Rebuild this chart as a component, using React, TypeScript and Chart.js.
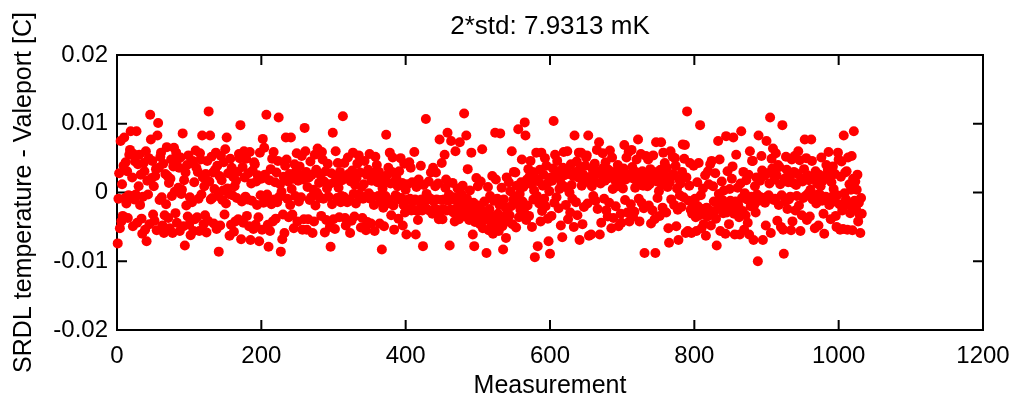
import React, { useEffect, useRef } from "react";
import { Chart, registerables } from "chart.js";

Chart.register(...registerables);

const titleText = "2*std: 7.9313 mK";
const xAxisLabel = "Measurement";
const yAxisLabel = "SRDL temperature - Valeport [C]";
const xTicks = [0, 200, 400, 600, 800, 1000, 1200];
const xTickLabels = ["0", "200", "400", "600", "800", "1000", "1200"];
const yTicks = [-0.02, -0.01, 0, 0.01, 0.02];
const yTickLabels = ["-0.02", "-0.01", "0", "0.01", "0.02"];

// temperature difference per measurement, in mK (measurement 1, 2, 3, ...)
const diffMilliK = [
  -7.4, -0.9, 2.8, -5.2, 7.5, -4.2, 1.2, -3.4, 3.9, 8.0,
  -0.8, 4.4, -1.6, 3.1, -3.7, -0.4, 5.5, 6.2, 8.9, -0.5,
  2.2, -4.9, 5.6, -1.0, 4.5, -0.3, 8.9, -4.4, 4.1, 0.9,
  5.5, -1.8, 2.6, -3.8, -6.0, -0.6, 4.3, 3.1, -5.4, 6.0,
  -7.1, 1.7, -0.3, 5.0, -4.6, 11.3, 7.7, 2.1, 4.6, -3.2,
  0.9, -4.1, 2.4, 3.4, -5.5, 8.3, 10.1, 3.6, -1.1, 5.2,
  5.8, -0.7, -4.8, 4.2, -5.9, -3.3, 2.7, -1.7, 6.6, 2.4,
  -3.7, 1.4, -5.2, 2.0, 4.8, -0.5, -5.9, 3.8, 6.5, 0.1,
  -3.0, 5.8, -4.4, 4.8, 0.7, 3.6, -5.6, 5.1, -0.2, 0.4,
  8.6, -4.9, 1.8, -7.7, 2.9, -1.9, 4.0, -3.5, 5.4, -4.7,
  -0.7, -6.2, 4.3, -1.4, 4.6, -5.6, 1.5, -3.9, 6.1, 3.6,
  -3.6, 3.0, -0.9, -5.6, 5.7, 4.8, -0.3, 8.3, 2.2, -4.6,
  0.9, -3.3, 2.7, -5.8, 4.6, -4.1, 11.8, 1.6, 8.3, -1.0,
  5.2, -0.8, 2.9, -4.5, 0.5, 3.3, 5.8, -5.3, 3.9, -0.5,
  -8.6, 2.4, -4.8, 5.3, 1.8, -1.1, 0.3, 4.4, -3.2, 6.3,
  -1.6, 8.0, 0.6, 2.8, -0.2, -6.3, 4.9, -4.7, 3.6, -0.4,
  2.3, -5.7, 0.9, -4.2, 1.7, -0.8, 3.0, -3.9, 5.6, 5.0,
  9.8, -6.8, -1.3, 3.7, -4.4, 6.0, 2.2, -0.6, 4.9, -3.4,
  -1.0, 2.8, -4.9, 5.9, -6.9, 1.3, -1.2, 3.2, -5.3, 4.4,
  4.1, -4.7, 1.6, -1.8, 2.5, -3.6, -7.1, 5.8, -0.4, 2.0,
  -5.4, 7.8, -1.5, 6.5, 2.6, -0.8, 11.3, -0.3, -4.7, -7.9,
  1.8, -5.6, 3.4, -1.7, 4.9, -4.2, 5.9, -1.0, 1.5, -3.8,
  2.9, -1.4, 4.6, 10.9, -0.6, 1.2, -8.6, 0.1, -6.8, -3.2,
  2.3, -5.9, 3.9, 8.0, 4.8, -0.9, 1.6, -3.6, 2.7, -1.8,
  8.0, 0.5, -3.2, 2.0, -5.2, 4.1, -0.5, 3.1, 5.7, -4.2,
  1.7, -1.3, 3.8, 2.5, -0.7, 5.3, -5.4, 1.9, -3.9, 9.4,
  6.0, 3.0, -5.4, 0.8, -3.9, 2.2, -1.1, 4.5, -0.7, 2.6,
  -5.9, 0.4, -4.2, 5.5, -1.9, 3.3, 0.0, 6.4, -0.4, 1.4,
  -0.8, 2.5, -3.4, 5.9, 4.8, -0.9, 1.6, -5.8, 3.1, -4.0,
  0.6, 4.2, -0.6, 1.2, -5.0, -7.9, 2.8, -1.7, 8.7, -3.9,
  1.5, -5.3, 6.0, 2.4, -0.8, 4.3, 0.7, -3.6, 3.0, -1.4,
  -0.5, 1.8, 11.1, -0.6, 4.3, -3.7, -4.8, 2.2, -1.4, 5.1,
  2.7, -1.0, -5.9, 1.6, -4.1, 3.2, 5.8, -0.2, -3.5, 1.1,
  -1.6, 2.1, 4.2, -0.4, 5.4, -0.3, 2.9, -5.1, 0.8, -3.7,
  -0.9, 1.2, 4.6, -0.7, -5.5, 2.6, -4.3, 3.3, -0.1, 5.6,
  -0.9, -4.5, 1.7, -0.6, 2.4, -1.8, -5.6, 5.2, 3.1, 4.0,
  1.5, -0.5, 3.0, -4.5, -1.4, 2.0, -8.3, 0.6, -2.2, -4.9,
  1.8, -0.5, 8.4, 2.5, -1.6, 3.6, -1.1, 5.8, 1.3, -3.3,
  3.0, 5.1, -1.9, -5.4, 1.6, -0.4, 2.2, -0.6, 0.9, -3.8,
  3.1, -1.0, 5.0, -0.8, 1.4, -4.8, -1.8, 4.2, -2.9, 0.4,
  -6.1, -1.1, 1.2, -2.4, 4.4, -0.9, 3.6, -2.6, 1.5, -1.3,
  -2.5, 5.9, -1.0, -6.1, 0.8, -2.7, -4.0, 1.9, -1.2, -2.3,
  3.9, -1.0, -2.6, -7.8, 1.1, -1.4, -2.4, 10.7, -0.2, -1.1,
  -2.5, 1.6, -0.8, -2.7, 2.9, -1.0, -3.1, 3.6, -1.3, -2.4,
  0.9, 2.9, -1.0, -2.5, 1.3, -3.9, 7.7, -2.8, -1.1, 4.3,
  -3.9, -2.4, -1.0, 5.5, 0.7, 1.9, -2.6, 8.7, -1.2, -0.3,
  -7.7, -2.5, 7.5, -1.0, 1.4, -2.9, -0.7, -4.2, 6.0, -2.3,
  -1.1, 0.6, -2.6, -3.9, 7.3, -1.4, -0.2, -2.8, 1.0, -1.6,
  11.5, -2.1, -3.5, 8.3, -0.9, 3.4, -2.7, -4.0, 0.3, -1.8,
  5.8, -3.2, -6.1, -1.5, -7.8, -4.3, -2.2, 2.1, -3.6, 0.9,
  -1.9, -3.0, -4.6, 1.6, -2.5, 6.3, -5.2, -3.4, -1.3, -4.0,
  -2.8, -8.8, -3.9, 0.8, -5.5, -2.4, -0.5, -3.3, -4.8, 2.4,
  -6.0, -1.2, -3.7, 8.7, 1.9, -4.4, -0.9, -3.1, -5.6, -1.8,
  8.6, -3.5, 0.7, -4.9, -8.3, -1.0, -3.8, -2.1, -6.6, 2.2,
  -2.9, -4.2, 1.5, -3.3, 0.2, -2.0, 6.0, -4.6, -1.1, 3.0,
  -0.6, 2.9, -5.1, 1.0, -1.7, 9.2, -3.6, -0.2, -2.5, 1.5,
  4.8, -1.3, 0.8, -2.8, 10.2, 8.3, -4.0, 1.9, -1.9, 3.4,
  -3.4, 2.4, 4.6, 1.2, -5.0, 3.0, -1.0, 0.3, -9.4, 2.1,
  5.8, -0.5, -7.8, 1.6, -1.6, 3.3, -4.2, 5.8, -2.7, 1.0,
  2.6, -0.9, 5.0, -2.0, 3.9, 1.3, -3.8, -7.1, 0.2, -8.9,
  2.2, -3.4, 1.7, 3.5, 10.4, -1.5, 5.5, 2.8, -0.7, 4.6,
  3.1, -2.3, 0.5, 2.0, -4.8, 1.2, -6.5, 3.6, 5.9, 2.5,
  0.8, -1.8, 3.3, 6.0, -3.9, 2.7, 0.0, -2.9, 4.1, 1.1,
  -0.9, 2.4, -5.0, 8.3, 3.0, -1.4, 4.5, -3.3, 2.2, 5.8,
  -6.9, 3.7, 5.8, 1.0, -4.6, 2.6, -2.1, 1.5, 3.9, 5.1,
  5.4, -1.6, 8.3, -6.3, 2.0, 2.3, -6.1, 0.9, 3.4, -0.5,
  1.9, 4.2, -1.2, 2.8, 6.2, -2.4, 3.1, 7.3, -6.1, 1.3,
  -4.4, 2.5, 5.7, 3.6, -0.9, 1.7, 4.4, -2.6, 2.0, -3.5,
  3.3, -1.5, 6.1, 2.7, -5.2, 5.1, 0.5, -3.7, 3.0, 1.8,
  -2.0, 2.4, 0.9, 4.0, -4.9, 1.5, 3.2, -3.1, -4.4, 2.1,
  0.6, 3.5, 6.9, -1.1, 1.9, 5.1, -2.9, 2.6, 5.9, -4.2,
  2.3, -1.7, 6.2, 3.7, -3.5, 2.0, -2.8, 0.7, 3.0, 4.8,
  1.4, 7.7, -0.9, -4.2, 2.2, 5.6, -1.5, 3.1, 1.0, -2.3,
  -8.8, 1.7, 5.3, 2.8, 0.9, 4.8, -1.9, 1.2, 3.4, -4.5,
  2.0, -2.6, 5.4, 3.0, -3.9, -8.8, 7.3, 1.6, -0.8, 2.5,
  0.2, -3.4, 3.3, 7.3, 1.1, -2.2, 5.8, 2.9, 4.3, 1.8,
  -2.9, 3.6, 0.8, -5.2, -7.3, 1.5, 6.0, -1.0, 2.4, 5.2,
  2.7, -1.8, 5.0, 3.9, -4.9, 0.6, -2.5, -6.9, 1.9, -0.4,
  1.3, -2.1, 3.0, 7.0, -0.7, 4.9, 6.9, -5.9, 2.2, 11.8,
  -5.6, -1.2, 1.0, 4.3, -2.5, -5.9, -3.1, -1.6, 3.9, -2.8,
  -0.9, -3.6, -5.6, 1.5, -2.0, 4.3, -3.3, 9.8, -0.4, -5.2,
  -2.4, 0.6, -4.6, -3.0, 2.5, -6.3, -2.2, -3.5, 3.1, 1.2,
  -2.6, 4.1, -4.8, 4.6, -3.2, 0.9, -1.3, -2.7, 2.8, -3.8,
  -7.7, -1.5, 7.5, -0.2, 4.8, -5.6, -2.3, 1.6, -1.1, -3.0,
  0.3, -2.0, -6.0, 8.2, -2.9, 3.1, -1.6, -4.6, 0.5, -1.2,
  -2.5, 2.0, 3.8, 8.0, -3.1, -6.1, -1.3, 5.5, -2.2, 0.7,
  -1.9, -3.6, -6.1, 1.3, 8.9, -0.8, -2.7, 3.0, -5.4, -0.1,
  -3.3, 1.8, -1.0, -4.4, 2.6, -6.1, 6.0, -2.0, -0.6, 4.6,
  4.6, -6.9, -1.8, 0.9, -2.9, 2.2, -0.3, -10.0, 8.3, -1.2,
  1.7, -0.7, 5.3, 3.2, -6.9, -0.8, 2.4, -1.5, -4.8, 7.5,
  -0.6, 2.8, -0.4, 1.3, 10.9, -5.9, 4.9, 3.5, 6.4, -1.1,
  1.9, -0.9, 5.7, 2.5, -4.1, 4.0, -1.8, 3.7, 1.2, -5.0,
  -0.4, 9.8, -5.4, -8.9, 2.0, -1.3, 5.2, 3.3, -2.4, 1.5,
  -1.0, 2.2, -0.6, -5.5, 4.8, -4.2, 1.4, 3.0, 5.3, -2.6,
  1.1, -0.5, 2.7, 6.0, -1.9, 4.7, -5.6, 2.0, -3.3, 1.6,
  -0.8, 3.4, 7.7, -0.5, 5.0, -4.0, 2.5, -0.1, 1.8, -3.5,
  0.4, 7.7, 4.6, -1.0, 2.1, -0.8, -5.2, 3.1, -1.6, 1.3,
  -0.3, -4.8, 2.6, -0.3, 0.9, 5.1, -1.2, 1.7, -3.1, -6.0,
  2.4, -0.6, 4.0, -1.0, 3.3, 5.9, -1.8, 2.0, -3.9, 1.5,
  -0.6, 3.8, 0.5, -1.3, 2.7, -3.4, -5.0, -0.4, 5.8, 4.8,
  -1.7, -5.4, 2.3, 4.5, -2.6, -5.3, 8.3, -0.1, 2.9, -1.0,
  3.1, -5.4, 5.1, -1.8, 1.2, -3.0, 0.4, 5.3, -5.5, 2.0,
  8.9, -1.2, 1.6, -2.3, 0.4, 2.6, -4.2, -1.5, -3.2, -5.9,
  -0.8, -3.1,
];

const FONT = "'Liberation Sans', Arial, Helvetica, sans-serif";

const framePlugin = {
  id: "matlabFrame",
  beforeDatasetsDraw(chart: any) {
    const { ctx, chartArea, scales } = chart;
    const { left, right, top, bottom } = chartArea;
    const tick = 10;
    ctx.save();
    ctx.strokeStyle = "#000000";
    ctx.lineWidth = 2;
    ctx.beginPath();
    ctx.rect(left, top, right - left, bottom - top);
    ctx.stroke();
    ctx.beginPath();
    xTicks.forEach((v) => {
      const px = scales.x.getPixelForValue(v);
      ctx.moveTo(px, bottom);
      ctx.lineTo(px, bottom - tick);
      ctx.moveTo(px, top);
      ctx.lineTo(px, top + tick);
    });
    yTicks.forEach((v) => {
      const py = scales.y.getPixelForValue(v);
      ctx.moveTo(left, py);
      ctx.lineTo(left + tick, py);
      ctx.moveTo(right, py);
      ctx.lineTo(right - tick, py);
    });
    ctx.stroke();
    ctx.restore();
  },
  afterDraw(chart: any) {
    const { ctx, chartArea } = chart;
    ctx.save();
    ctx.fillStyle = "#000000";
    ctx.font = `26px ${FONT}`;
    ctx.textAlign = "center";
    ctx.textBaseline = "middle";
    ctx.fillText(titleText, (chartArea.left + chartArea.right) / 2, 27);
    ctx.restore();
  },
};

export default function App() {
  const canvasRef = useRef<HTMLCanvasElement | null>(null);

  useEffect(() => {
    document.body.style.margin = "0";
    document.body.style.background = "#ffffff";
    const canvas = canvasRef.current;
    if (!canvas) return;
    const points = diffMilliK.map((v, i) => ({ x: i + 1, y: v / 1000 }));

    const chart = new Chart(canvas, {
      type: "scatter",
      data: {
        datasets: [
          {
            data: points,
            backgroundColor: "#ff0000",
            borderColor: "#ff0000",
            borderWidth: 0,
            pointRadius: 5,
            pointHoverRadius: 5,
            clip: false as any,
          },
        ],
      },
      options: {
        animation: false,
        responsive: false,
        devicePixelRatio: 1,
        layout: { padding: { left: 0, right: 31, top: 55, bottom: 0 } },
        plugins: {
          legend: { display: false },
          tooltip: { enabled: false },
          title: { display: false },
        },
        scales: {
          x: {
            type: "linear",
            min: 0,
            max: 1200,
            afterBuildTicks: (scale: any) => {
              scale.ticks = xTicks.map((v) => ({ value: v }));
            },
            afterFit: (scale: any) => {
              scale.height = 71;
              scale.paddingLeft = 0;
              scale.paddingRight = 0;
            },
            grid: { display: false, drawTicks: false },
            border: { display: false },
            ticks: {
              color: "#000000",
              font: { family: FONT, size: 24 },
              padding: 12,
              maxRotation: 0,
              autoSkip: false,
              callback: (_v: any, idx: number) => xTickLabels[idx],
            },
            title: {
              display: true,
              text: xAxisLabel,
              color: "#000000",
              font: { family: FONT, size: 25, lineHeight: 1.2 },
              padding: { top: 0, bottom: 0 },
            },
          },
          y: {
            type: "linear",
            min: -0.02,
            max: 0.02,
            afterBuildTicks: (scale: any) => {
              scale.ticks = yTicks.map((v) => ({ value: v }));
            },
            afterFit: (scale: any) => {
              scale.width = 117;
              scale.paddingTop = 0;
              scale.paddingBottom = 0;
            },
            grid: { display: false, drawTicks: false },
            border: { display: false },
            ticks: {
              color: "#000000",
              font: { family: FONT, size: 24 },
              padding: 9,
              autoSkip: false,
              callback: (_v: any, idx: number) => yTickLabels[idx],
            },
            title: {
              display: true,
              text: yAxisLabel,
              color: "#000000",
              font: { family: FONT, size: 25, lineHeight: 1.2 },
              padding: { top: 9, bottom: 0 },
            },
          },
        },
      },
      plugins: [framePlugin],
    });

    return () => {
      chart.destroy();
    };
  }, []);

  return (
    <div style={{ width: 1014, height: 401, background: "#ffffff" }}>
      <canvas ref={canvasRef} width={1014} height={401} style={{ display: "block" }} />
    </div>
  );
}
